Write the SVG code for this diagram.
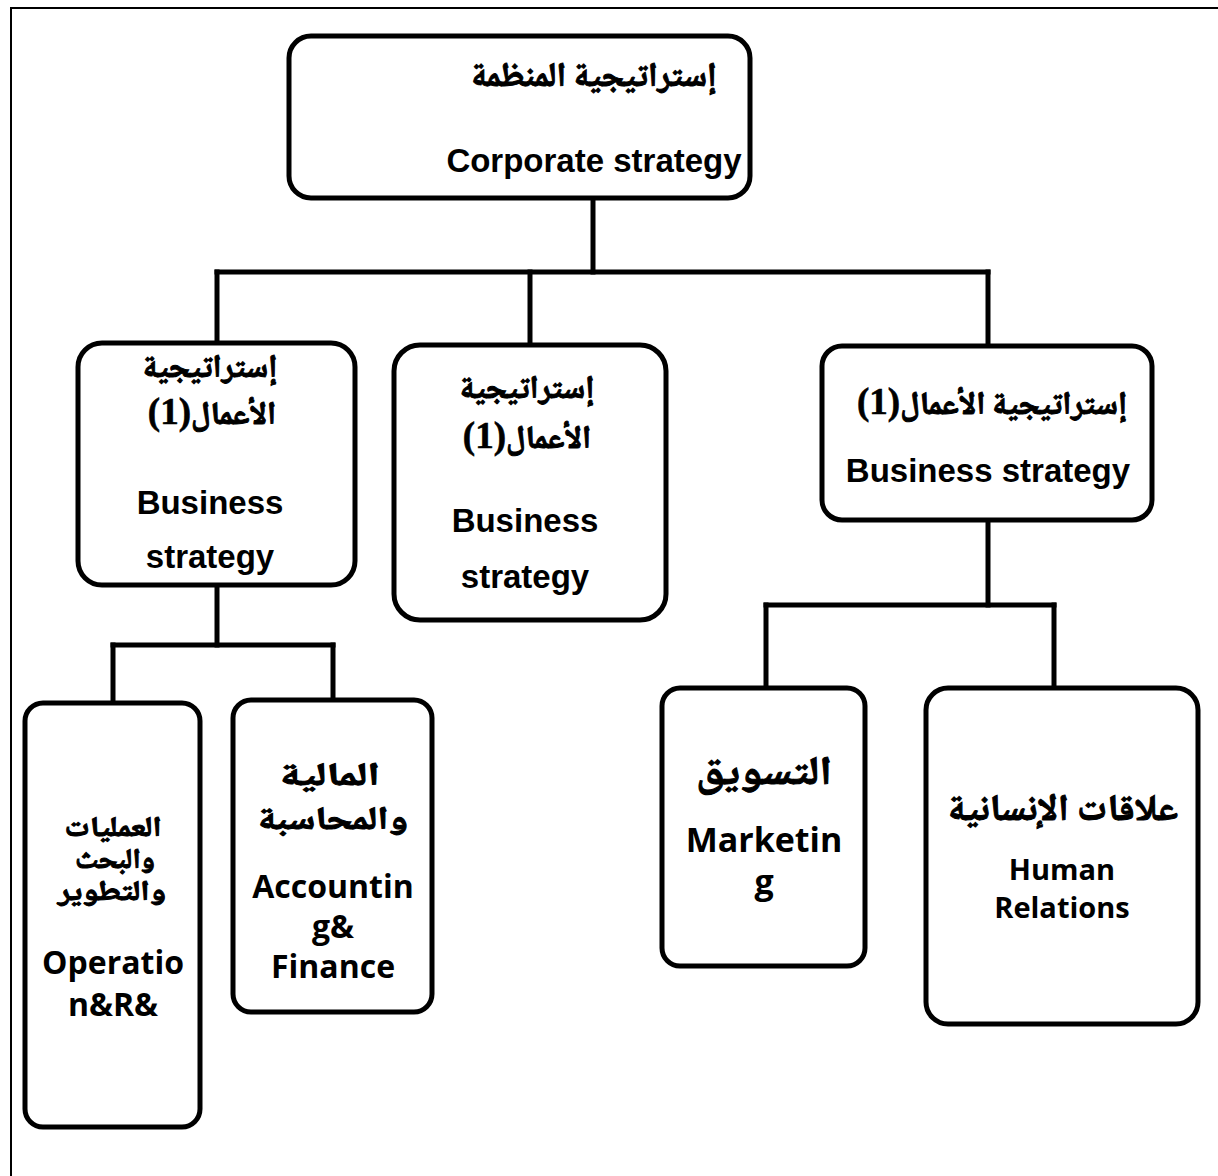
<svg xmlns="http://www.w3.org/2000/svg" width="1218" height="1176" viewBox="0 0 1218 1176">
<style>
.box{fill:#fff;stroke:#000;stroke-width:5}
.con{fill:none;stroke:#000;stroke-width:5;stroke-linecap:square}
.frame{fill:none;stroke:#000;stroke-width:2}
.ar{font-family:"Noto Naskh Arabic","Noto Sans Arabic","DejaVu Sans","Noto Sans",serif;font-weight:bold;text-anchor:middle;fill:#000;stroke:#000;stroke-width:1}
.en{font-family:"Liberation Sans",Arial,sans-serif;font-weight:bold;font-size:33px;text-anchor:middle;fill:#000}
.ca{font-family:"Open Sans","Noto Sans",sans-serif;font-weight:bold;text-anchor:middle;fill:#000}
.num{font-family:"Liberation Serif","Times New Roman",serif;font-size:37px;stroke-width:0.6}
</style>
<rect width="1218" height="1176" fill="#fff"/>
<path class="frame" d="M11 1176 V8 H1218"/>
<g id="connectors">
<path class="con" d="M593 198 V272"/>
<path class="con" d="M217 272 H988"/>
<path class="con" d="M217 272 V343"/>
<path class="con" d="M530 272 V345"/>
<path class="con" d="M988 272 V346"/>
<path class="con" d="M217 585 V645"/>
<path class="con" d="M113 645 H333"/>
<path class="con" d="M113 645 V703"/>
<path class="con" d="M333 645 V700"/>
<path class="con" d="M988 520 V605"/>
<path class="con" d="M766 605 H1054"/>
<path class="con" d="M766 605 V688"/>
<path class="con" d="M1054 605 V688"/>
</g>
<g id="corporate">
<rect class="box" x="289" y="36" width="461" height="162" rx="22"/>
<text class="ar" x="594" y="86" font-size="34" direction="rtl">إستراتيجية المنظمة</text>
<text class="en" x="594" y="172">Corporate strategy</text>
</g>
<g id="business-left">
<rect class="box" x="78" y="343" width="277" height="242" rx="24"/>
<text class="ar" x="210" y="377" font-size="32" direction="rtl">إستراتيجية</text>
<text class="ar" x="212" y="424" font-size="32" direction="rtl">الأعمال<tspan class="num">(1)</tspan></text>
<text class="en" x="210" y="514">Business</text>
<text class="en" x="210" y="568">strategy</text>
</g>
<g id="business-middle">
<rect class="box" x="394" y="345" width="272" height="275" rx="26"/>
<text class="ar" x="527" y="398" font-size="32" direction="rtl">إستراتيجية</text>
<text class="ar" x="527" y="448" font-size="32" direction="rtl">الأعمال<tspan class="num">(1)</tspan></text>
<text class="en" x="525" y="532">Business</text>
<text class="en" x="525" y="588">strategy</text>
</g>
<g id="business-right">
<rect class="box" x="822" y="346" width="330" height="174" rx="20"/>
<text class="ar" x="992" y="414" font-size="32" direction="rtl">إستراتيجية الأعمال<tspan class="num">(1)</tspan></text>
<text class="en" x="988" y="482">Business strategy</text>
</g>
<g id="operations">
<rect class="box" x="25" y="703" width="175" height="424" rx="18"/>
<text class="ar" x="113" y="836" font-size="28" direction="rtl" textLength="97" lengthAdjust="spacingAndGlyphs">العمليات</text>
<text class="ar" x="115" y="868" font-size="28" direction="rtl" textLength="80" lengthAdjust="spacingAndGlyphs">والبحث</text>
<text class="ar" x="112" y="900" font-size="28" direction="rtl" textLength="108" lengthAdjust="spacingAndGlyphs">والتطوير</text>
<text class="ca" x="113" y="974" font-size="32">Operatio</text>
<text class="ca" x="113" y="1016" font-size="32">n&amp;R&amp;</text>
</g>
<g id="accounting">
<rect class="box" x="233" y="700" width="199" height="312" rx="18"/>
<text class="ar" x="330" y="785" font-size="32" direction="rtl" textLength="100" lengthAdjust="spacingAndGlyphs">المالية</text>
<text class="ar" x="333" y="829" font-size="32" direction="rtl" textLength="150" lengthAdjust="spacingAndGlyphs">والمحاسبة</text>
<text class="ca" x="333" y="898" font-size="32">Accountin</text>
<text class="ca" x="333" y="938" font-size="32">g&amp;</text>
<text class="ca" x="333" y="978" font-size="32">Finance</text>
</g>
<g id="marketing">
<rect class="box" x="662" y="688" width="203" height="278" rx="18"/>
<text class="ar" x="764" y="784" font-size="40" direction="rtl" textLength="136" lengthAdjust="spacingAndGlyphs">التسويق</text>
<text class="ca" x="764" y="852" font-size="34">Marketin</text>
<text class="ca" x="764" y="894" font-size="34">g</text>
</g>
<g id="human-relations">
<rect class="box" x="926" y="688" width="272" height="336" rx="22"/>
<text class="ar" x="1063" y="820" font-size="37" direction="rtl" textLength="230" lengthAdjust="spacingAndGlyphs">علاقات الإنسانية</text>
<text class="ca" x="1062" y="880" font-size="29">Human</text>
<text class="ca" x="1062" y="918" font-size="29">Relations</text>
</g>
</svg>
